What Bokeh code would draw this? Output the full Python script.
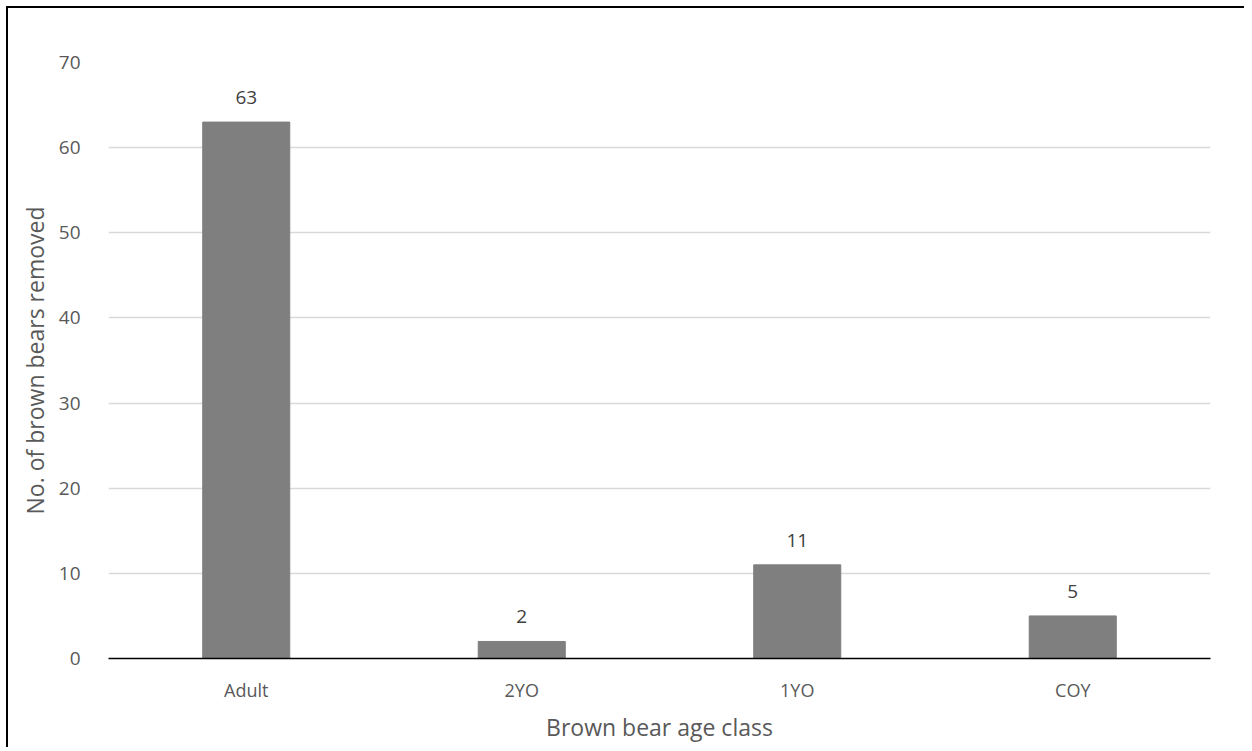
from bokeh.plotting import figure
from bokeh.models import ColumnDataSource, LabelSet, Range1d, FixedTicker
from bokeh.core.properties import value
from bokeh.embed import file_html
from bokeh.resources import INLINE

categories = ["Adult", "2YO", "1YO", "COY"]
counts = [63, 2, 11, 5]
y_ticks = [0, 10, 20, 30, 40, 50, 60, 70]

src = ColumnDataSource(data=dict(cat=categories, val=counts, lbl=[str(v) for v in counts]))

p = figure(x_range=categories, y_range=Range1d(0, 70), width=1236, height=739,
           output_backend="svg", toolbar_location=None,
           min_border_left=100, min_border_right=36, min_border_top=54, min_border_bottom=91)
p.styles = {"border-top": "2px solid black", "border-left": "2px solid black",
            "margin-left": "6px", "margin-top": "6px", "box-sizing": "content-box"}
p.outline_line_color = None
p.background_fill_color = "white"
p.border_fill_color = "white"

p.vbar(x="cat", top="val", width=0.316, source=src, color="#7f7f7f")

labels = LabelSet(x="cat", y="val", text="lbl", source=src, text_align="center",
                  text_baseline="bottom", y_offset=18, text_font=value("Open Sans"),
                  text_font_size="19px", text_color="#404040")
p.add_layout(labels)

p.xgrid.grid_line_color = None
p.ygrid.grid_line_color = "#d9d9d9"
p.ygrid.grid_line_width = 1.3
p.yaxis.ticker = FixedTicker(ticks=y_ticks)

p.yaxis.axis_line_color = None
p.yaxis.major_tick_line_color = None
p.yaxis.minor_tick_line_color = None
p.yaxis.major_label_standoff = 22
p.yaxis.major_label_text_font = "Open Sans"
p.yaxis.major_label_text_font_size = "19px"
p.yaxis.major_label_text_color = "#595959"
p.yaxis.axis_label = "No. of brown bears removed"
p.yaxis.axis_label_text_font = "Open Sans"
p.yaxis.axis_label_text_font_size = "23px"
p.yaxis.axis_label_text_font_style = "normal"
p.yaxis.axis_label_text_color = "#595959"
p.yaxis.axis_label_standoff = 5

p.xaxis.axis_line_color = "black"
p.xaxis.axis_line_width = 1.6
p.xaxis.major_tick_line_color = None
p.xaxis.minor_tick_line_color = None
p.xaxis.major_label_standoff = 13
p.xaxis.major_label_text_font = "Open Sans"
p.xaxis.major_label_text_font_size = "18px"
p.xaxis.major_label_text_color = "#595959"
p.xaxis.axis_label = "Brown bear age class"
p.xaxis.axis_label_text_font = "Open Sans"
p.xaxis.axis_label_text_font_size = "23px"
p.xaxis.axis_label_text_font_style = "normal"
p.xaxis.axis_label_text_color = "#595959"
p.xaxis.axis_label_standoff = 6

open("out.html", "w").write(file_html(p, INLINE))
